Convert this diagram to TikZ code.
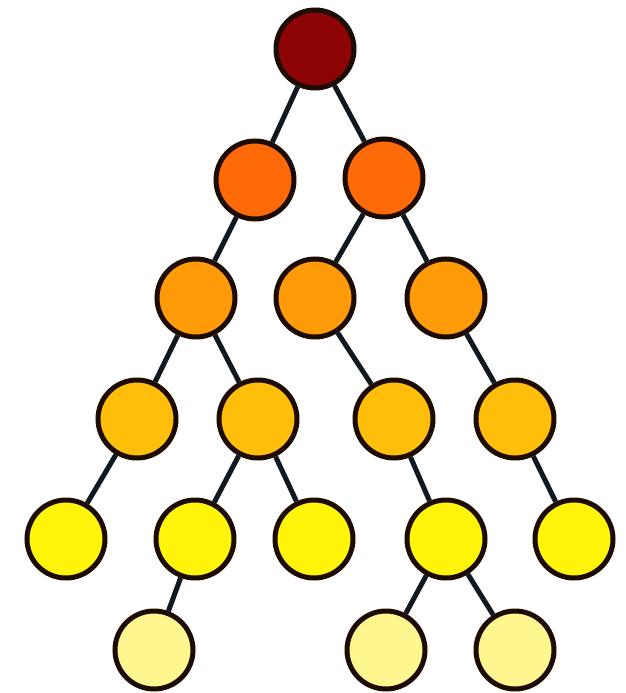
\documentclass[tikz,border=0pt]{standalone}
\usepackage{xcolor}
\usepackage{tikz}
\usetikzlibrary{backgrounds}
\definecolor{rim}{HTML}{1C0C04}
\definecolor{twig}{HTML}{101820}
\definecolor{lvlzero}{HTML}{8C0404}
\definecolor{lvlone}{HTML}{FF6A08}
\definecolor{lvltwo}{HTML}{FF9A08}
\definecolor{lvlthree}{HTML}{FFBE0A}
\definecolor{lvlfour}{HTML}{FFF40A}
\definecolor{lvlfive}{HTML}{FFF690}
\tikzset{
  ball/.style={
    circle, draw=rim, line width=5pt, minimum size=78pt, inner sep=0pt
  },
  ball0/.style={ball, fill=lvlzero},
  ball1/.style={ball, fill=lvlone},
  ball2/.style={ball, fill=lvltwo},
  ball3/.style={ball, fill=lvlthree},
  ball4/.style={ball, fill=lvlfour},
  ball5/.style={ball, fill=lvlfive},
  branch/.style={line width=5pt, draw=twig},
}
\begin{document}
\begin{tikzpicture}[x=1pt, y=-1pt]
    \useasboundingbox (0,0) rectangle (625,693);
    \node[ball0] (root) at (315,49) {};
    \node[ball1] (a1) at (255,180) {};
    \node[ball1] (a2) at (384,178) {};
    \node[ball2] (b1) at (196,298) {};
    \node[ball2] (b2) at (315,298) {};
    \node[ball2] (b3) at (446,298) {};
    \node[ball3] (c1) at (137,419) {};
    \node[ball3] (c2) at (258,419) {};
    \node[ball3] (c3) at (394,419) {};
    \node[ball3] (c4) at (515,419) {};
    \node[ball4] (d1) at (66,539) {};
    \node[ball4] (d2) at (195,539) {};
    \node[ball4] (d3) at (314,539) {};
    \node[ball4] (d4) at (446,539) {};
    \node[ball4] (d5) at (574,539) {};
    \node[ball5] (e1) at (154,650) {};
    \node[ball5] (e2) at (386,650) {};
    \node[ball5] (e3) at (515,650) {};
    \begin{scope}[on background layer]
      \draw[branch] (root) -- (a1);
      \draw[branch] (root) -- (a2);
      \draw[branch] (a1) -- (b1);
      \draw[branch] (a2) -- (b2);
      \draw[branch] (a2) -- (b3);
      \draw[branch] (b1) -- (c1);
      \draw[branch] (b1) -- (c2);
      \draw[branch] (b2) -- (c3);
      \draw[branch] (b3) -- (c4);
      \draw[branch] (c1) -- (d1);
      \draw[branch] (c2) -- (d2);
      \draw[branch] (c2) -- (d3);
      \draw[branch] (c3) -- (d4);
      \draw[branch] (c4) -- (d5);
      \draw[branch] (d2) -- (e1);
      \draw[branch] (d4) -- (e2);
      \draw[branch] (d4) -- (e3);
    \end{scope}
  \end{tikzpicture}
\end{document}
